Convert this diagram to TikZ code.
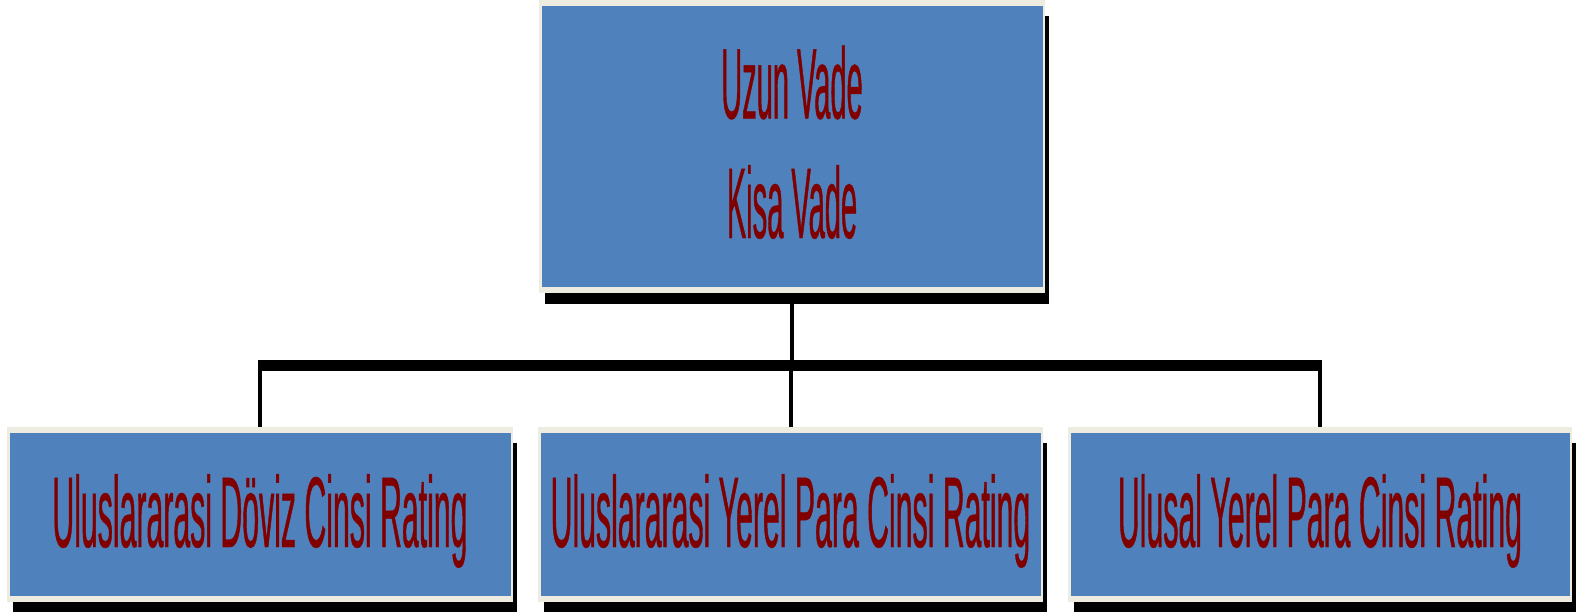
\documentclass[tikz,border=0pt]{standalone}
\usepackage{fontspec}
\setmainfont{Liberation Sans}
\newfontfamily\narrowfont[FakeStretch=0.301,FakeBold=0.4]{Liberation Sans}
\newfontfamily\narrowtopfont[FakeStretch=0.289,FakeBold=0.4]{Liberation Sans}
\usetikzlibrary{calc,backgrounds}
\definecolor{boxblue}{HTML}{4F81BD}
\definecolor{boxcream}{HTML}{EEECE1}
\definecolor{txtred}{HTML}{800000}
\tikzset{
  orgbox/.style={fill=boxcream, inner sep=0pt, text=txtred, align=center,
    path picture={\fill[boxblue] ([xshift=2.5pt,yshift=-5.5pt]path picture bounding box.north west)
      rectangle ([xshift=-2pt,yshift=6pt]path picture bounding box.south east);}},
  lowbox/.style={orgbox, minimum height=175pt, text height=72pt, text depth=7pt,
    font=\narrowfont\fontsize{100.5}{119.5}\selectfont},
  topbox/.style={orgbox, minimum height=293pt, text height=190pt, text depth=7pt,
    font=\narrowtopfont\fontsize{100.5}{119.5}\selectfont},
  shadowfill/.style={fill=black},
  conn/.style={draw=black, line width=4pt},
  barline/.style={draw=black, line width=11pt}
}
\begin{document}
\begin{tikzpicture}[x=1pt,y=-1pt]
\useasboundingbox (0,0) rectangle (1583,611);
% boxes
\node[topbox, minimum width=506pt] (top) at (792,146.5) {Uzun Vade\\Kisa Vade};
\node[lowbox, minimum width=506pt] (b1) at (260,514.5) {Uluslararasi Döviz Cinsi Rating};
\node[lowbox, minimum width=505pt] (b2) at (790.5,514.5) {Uluslararasi Yerel Para Cinsi Rating};
\node[lowbox, minimum width=504pt] (b3) at (1320,514.5) {Ulusal Yerel Para Cinsi Rating};
% shadows
\begin{scope}[on background layer]
  \foreach \n in {top,b1,b2,b3}
    \fill[shadowfill] ($(\n.north west)+(6,16)$) rectangle ($(\n.south east)+(3.5,11)$);
\end{scope}
% connectors
\coordinate (barmid) at (792,365.5);
\draw[conn] (top.south) -- (top.south |- barmid);
\draw[barline] ($(b1.north |- barmid)+(-2,0)$) -- ($(b3.north |- barmid)+(2,0)$);
\draw[conn] (b1.north |- barmid) -- (b1.north);
\draw[conn] (b2.north |- barmid) -- (b2.north);
\draw[conn] (b3.north |- barmid) -- (b3.north);
\end{tikzpicture}
\end{document}
